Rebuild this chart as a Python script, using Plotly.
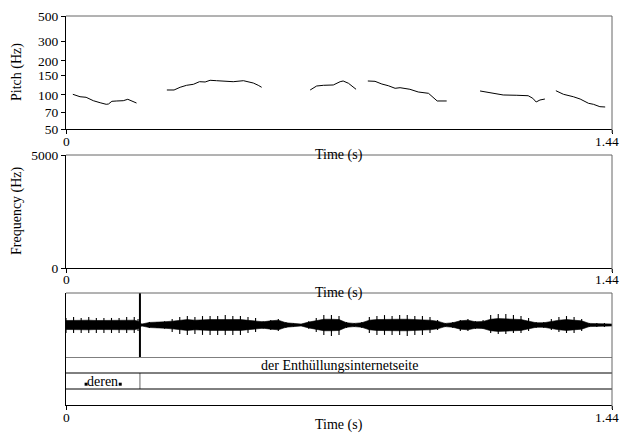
import plotly.graph_objects as go

# ---------------- data ----------------
DURATION = 1.44

# Pitch contour segments (time s, pitch Hz)
seg1_t = [0.018, 0.037, 0.053, 0.072, 0.090, 0.106, 0.112, 0.121, 0.134, 0.151, 0.163, 0.173, 0.186]
seg1_f = [101.4, 96.5, 95.4, 89.0, 85.4, 82.7, 83.2, 87.9, 88.5, 89.0, 91.6, 89.0, 84.9]
seg2_t = [0.266, 0.285, 0.301, 0.318, 0.336, 0.352, 0.367, 0.380, 0.397, 0.424, 0.441, 0.468, 0.494, 0.507, 0.516]
seg2_f = [110.7, 110.7, 117.0, 121.8, 124.3, 131.1, 130.3, 134.9, 133.8, 131.1, 131.1, 133.8, 127.6, 121.8, 117.0]
seg3_t = [0.644, 0.661, 0.679, 0.705, 0.723, 0.731, 0.745, 0.765]
seg3_f = [110.7, 120.1, 121.8, 122.6, 131.1, 133.0, 126.9, 112.3]
seg4_t = [0.796, 0.815, 0.833, 0.850, 0.868, 0.881, 0.907, 0.929, 0.956, 0.967, 0.979, 1.004]
seg4_f = [133.0, 132.1, 125.0, 120.8, 114.6, 116.0, 112.3, 106.3, 103.5, 96.5, 88.5, 88.5]
seg5_t = [1.092, 1.127, 1.153, 1.189, 1.219, 1.231, 1.240, 1.250, 1.263]
seg5_f = [108.5, 103.5, 100.0, 99.4, 98.5, 93.5, 86.7, 90.3, 92.1]
seg6_t = [1.292, 1.312, 1.338, 1.356, 1.378, 1.391, 1.408, 1.422]
seg6_f = [109.1, 101.4, 96.5, 92.1, 84.4, 82.7, 78.8, 78.3]
pitch_segments = [(seg1_t, seg1_f), (seg2_t, seg2_f), (seg3_t, seg3_f),
                  (seg4_t, seg4_f), (seg5_t, seg5_f), (seg6_t, seg6_f)]

pitch_ticks = [50, 70, 100, 150, 200, 300, 500]
freq_ticks = [0, 5000]
time_ticks = [0, 1.44]
time_ticktext = ["0", "1.44"]

# Waveform (normalised, full scale = 1): peak envelope (upper / lower) and dense core
wave_t = [0.00, 0.02, 0.04, 0.06, 0.08, 0.10, 0.12, 0.14, 0.16, 0.18, 0.19, 0.20,
          0.22, 0.24, 0.26, 0.28, 0.30, 0.32, 0.34, 0.36, 0.38, 0.40, 0.42, 0.44,
          0.46, 0.48, 0.50, 0.52, 0.54, 0.56, 0.58, 0.60, 0.62, 0.64, 0.66, 0.68,
          0.70, 0.72, 0.74, 0.76, 0.78, 0.80, 0.82, 0.84, 0.86, 0.88, 0.90, 0.92,
          0.94, 0.96, 0.98, 1.00, 1.02, 1.04, 1.06, 1.08, 1.10, 1.12, 1.14, 1.16,
          1.18, 1.20, 1.22, 1.24, 1.26, 1.28, 1.30, 1.32, 1.34, 1.36, 1.38, 1.40,
          1.42, 1.44]
wave_up = [0.22, 0.25, 0.22, 0.25, 0.22, 0.22, 0.22, 0.22, 0.25, 0.25, 0.19, 0.03,
           0.09, 0.09, 0.12, 0.19, 0.25, 0.28, 0.25, 0.28, 0.28, 0.28, 0.31, 0.28,
           0.28, 0.25, 0.22, 0.12, 0.16, 0.19, 0.09, 0.05, 0.03, 0.12, 0.22, 0.31,
           0.31, 0.28, 0.09, 0.06, 0.09, 0.25, 0.28, 0.31, 0.28, 0.31, 0.31, 0.28,
           0.28, 0.25, 0.16, 0.06, 0.09, 0.16, 0.19, 0.12, 0.16, 0.31, 0.34, 0.34,
           0.31, 0.28, 0.22, 0.09, 0.09, 0.19, 0.25, 0.28, 0.25, 0.19, 0.06, 0.06,
           0.06, 0.03]
wave_lo = [0.25, 0.25, 0.25, 0.25, 0.25, 0.25, 0.25, 0.25, 0.25, 0.25, 0.19, 0.03,
           0.09, 0.09, 0.12, 0.22, 0.28, 0.31, 0.28, 0.31, 0.31, 0.31, 0.31, 0.31,
           0.31, 0.25, 0.22, 0.12, 0.16, 0.19, 0.09, 0.05, 0.03, 0.12, 0.22, 0.31,
           0.34, 0.31, 0.09, 0.06, 0.09, 0.25, 0.31, 0.31, 0.31, 0.31, 0.34, 0.31,
           0.31, 0.25, 0.16, 0.06, 0.09, 0.19, 0.19, 0.12, 0.12, 0.25, 0.28, 0.28,
           0.25, 0.25, 0.19, 0.09, 0.09, 0.16, 0.22, 0.25, 0.25, 0.19, 0.06, 0.06,
           0.06, 0.03]
wave_core = [0.14, 0.15, 0.14, 0.15, 0.14, 0.14, 0.14, 0.14, 0.15, 0.15, 0.12, 0.03,
             0.08, 0.08, 0.10, 0.12, 0.15, 0.17, 0.15, 0.17, 0.17, 0.17, 0.18, 0.17,
             0.17, 0.15, 0.13, 0.10, 0.13, 0.15, 0.07, 0.04, 0.03, 0.09, 0.13, 0.18,
             0.18, 0.17, 0.07, 0.05, 0.07, 0.15, 0.17, 0.18, 0.17, 0.18, 0.18, 0.17,
             0.17, 0.15, 0.12, 0.05, 0.07, 0.13, 0.15, 0.10, 0.11, 0.18, 0.20, 0.20,
             0.18, 0.17, 0.13, 0.07, 0.07, 0.12, 0.15, 0.17, 0.15, 0.13, 0.05, 0.05,
             0.05, 0.03]

# TextGrid tiers
boundaries = [0.195]
tier1_label = "der Enthüllungsinternetseite"
tier2_label = "deren"
tier2_interval = [0.0, 0.195]
tier2_marks = [0.053, 0.143]

# ---------------- figure ----------------
W, H = 622, 439
X0, X1 = 66 / W, 612 / W
def py(p):
    return 1 - p / H

FONT = dict(family="Liberation Serif", size=14, color="black")
TICKFONT = dict(family="Liberation Serif", size=13.5, color="black")
GRAY = "#666666"

fig = go.Figure()

for t, f in pitch_segments:
    fig.add_trace(go.Scatter(x=t, y=f, mode="lines", line=dict(color="black", width=1),
                             xaxis="x", yaxis="y", showlegend=False, hoverinfo="skip"))

fig.add_trace(go.Scatter(x=[None], y=[None], xaxis="x2", yaxis="y2", showlegend=False))

fig.add_trace(go.Scatter(x=wave_t, y=wave_core, mode="lines", line=dict(color="black", width=0.6),
                         xaxis="x3", yaxis="y3", showlegend=False, hoverinfo="skip"))
fig.add_trace(go.Scatter(x=wave_t, y=[-v for v in wave_core], mode="lines",
                         line=dict(color="black", width=0.6), fill="tonexty", fillcolor="black",
                         xaxis="x3", yaxis="y3", showlegend=False, hoverinfo="skip"))
spk_x, spk_y = [], []
for t, u, l in zip(wave_t, wave_up, wave_lo):
    spk_x += [t, t, None]
    spk_y += [-l, u, None]
fig.add_trace(go.Scatter(x=spk_x, y=spk_y, mode="lines", line=dict(color="black", width=1.1),
                         xaxis="x3", yaxis="y3", showlegend=False, hoverinfo="skip"))

fig.add_trace(go.Scatter(x=tier2_marks, y=[1.3, 1.3], mode="markers",
                         marker=dict(symbol="square", size=3, color="black"),
                         xaxis="x3", yaxis="y4", showlegend=False, hoverinfo="skip"))

shapes = []
for b in boundaries:
    shapes.append(dict(type="line", xref="x3", yref="y3", x0=b, x1=b, y0=-1, y1=1,
                       line=dict(color="black", width=2)))
    shapes.append(dict(type="line", xref="x3", yref="y4", x0=b, x1=b, y0=1, y1=2,
                       line=dict(color=GRAY, width=1)))
for yv in [1, 2, 3]:
    shapes.append(dict(type="line", xref="x3", yref="y4", x0=0, x1=DURATION, y0=yv, y1=yv,
                       line=dict(color="black", width=1)))
for top, bot in [(16, 129), (155, 268), (293, 405)]:
    shapes.append(dict(type="line", xref="paper", yref="paper", x0=X0, x1=X1, y0=py(top), y1=py(top),
                       line=dict(color=GRAY, width=1)))
    shapes.append(dict(type="line", xref="paper", yref="paper", x0=X1, x1=X1, y0=py(top), y1=py(bot + 4),
                       line=dict(color=GRAY, width=1)))

C = dict(xanchor="center", yanchor="middle", showarrow=False)
annotations = [
    dict(text="Pitch (Hz)", xref="paper", yref="paper", x=17 / W, y=py(72), textangle=-90,
         font=FONT, **C),
    dict(text="Frequency (Hz)", xref="paper", yref="paper", x=17 / W, y=py(211), textangle=-90,
         font=FONT, **C),
    dict(text="Time (s)", xref="paper", yref="paper", x=339 / W, y=py(155), font=FONT, **C),
    dict(text="Time (s)", xref="paper", yref="paper", x=339 / W, y=py(293), font=FONT, **C),
    dict(text="Time (s)", xref="paper", yref="paper", x=339 / W, y=py(425), font=FONT, **C),
    dict(text=tier1_label, xref="x3", yref="y4", x=DURATION / 2, y=2.5, font=FONT, **C),
    dict(text=tier2_label, xref="x3", yref="y4", x=sum(tier2_interval) / 2, y=1.5, font=FONT, **C),
]
# time tick labels (below each panel); the last one kept inside the page
for xa, label_y in [("x", 141), ("x2", 279), ("x3", 417)]:
    for tv, tt in zip(time_ticks, time_ticktext):
        last = tv == time_ticks[-1]
        annotations.append(dict(text=tt, xref=xa, yref="paper", x=tv, y=py(label_y),
                                xanchor="right" if last else "center", yanchor="middle",
                                xshift=9 if last else 0,
                                showarrow=False, font=TICKFONT))

xcommon = dict(range=[0, DURATION], tickvals=time_ticks, showticklabels=False,
               ticks="outside", ticklen=4, tickcolor="black", showline=True, linecolor="black",
               linewidth=1, showgrid=False, zeroline=False, fixedrange=True, automargin=False)
ycommon = dict(ticks="outside", ticklen=4, tickcolor="black", showline=True, linecolor="black",
               linewidth=1, showgrid=False, zeroline=False, tickfont=TICKFONT, fixedrange=True,
               automargin=False)
yplain = dict(showticklabels=False, ticks="", showline=True, linecolor="black", linewidth=1,
              showgrid=False, zeroline=False, fixedrange=True, automargin=False)

fig.update_layout(
    template="none",
    width=W, height=H, autosize=False,
    margin=dict(l=0, r=0, t=0, b=0, pad=0),
    paper_bgcolor="white", plot_bgcolor="white",
    font=FONT,
    xaxis=dict(domain=[X0, X1], anchor="y", **xcommon),
    yaxis=dict(domain=[py(129), py(16)], anchor="x", type="log", range=[1.69897, 2.69897],
               tickvals=pitch_ticks, ticktext=[str(v) for v in pitch_ticks], **ycommon),
    xaxis2=dict(domain=[X0, X1], anchor="y2", **xcommon),
    yaxis2=dict(domain=[py(268), py(155)], anchor="x2", range=[0, 5000],
                tickvals=freq_ticks, ticktext=[str(v) for v in freq_ticks], **ycommon),
    xaxis3=dict(domain=[X0, X1], anchor="y4", **xcommon),
    yaxis3=dict(domain=[py(357), py(293)], anchor="x3", range=[-1, 1], **yplain),
    yaxis4=dict(domain=[py(405), py(357)], anchor="x3", range=[0, 3], **yplain),
    shapes=shapes,
    annotations=annotations,
    showlegend=False,
)

fig.write_html("out.html", config={"displayModeBar": False},
               post_script="document.body.style.margin='0';document.body.style.overflow='hidden';")
